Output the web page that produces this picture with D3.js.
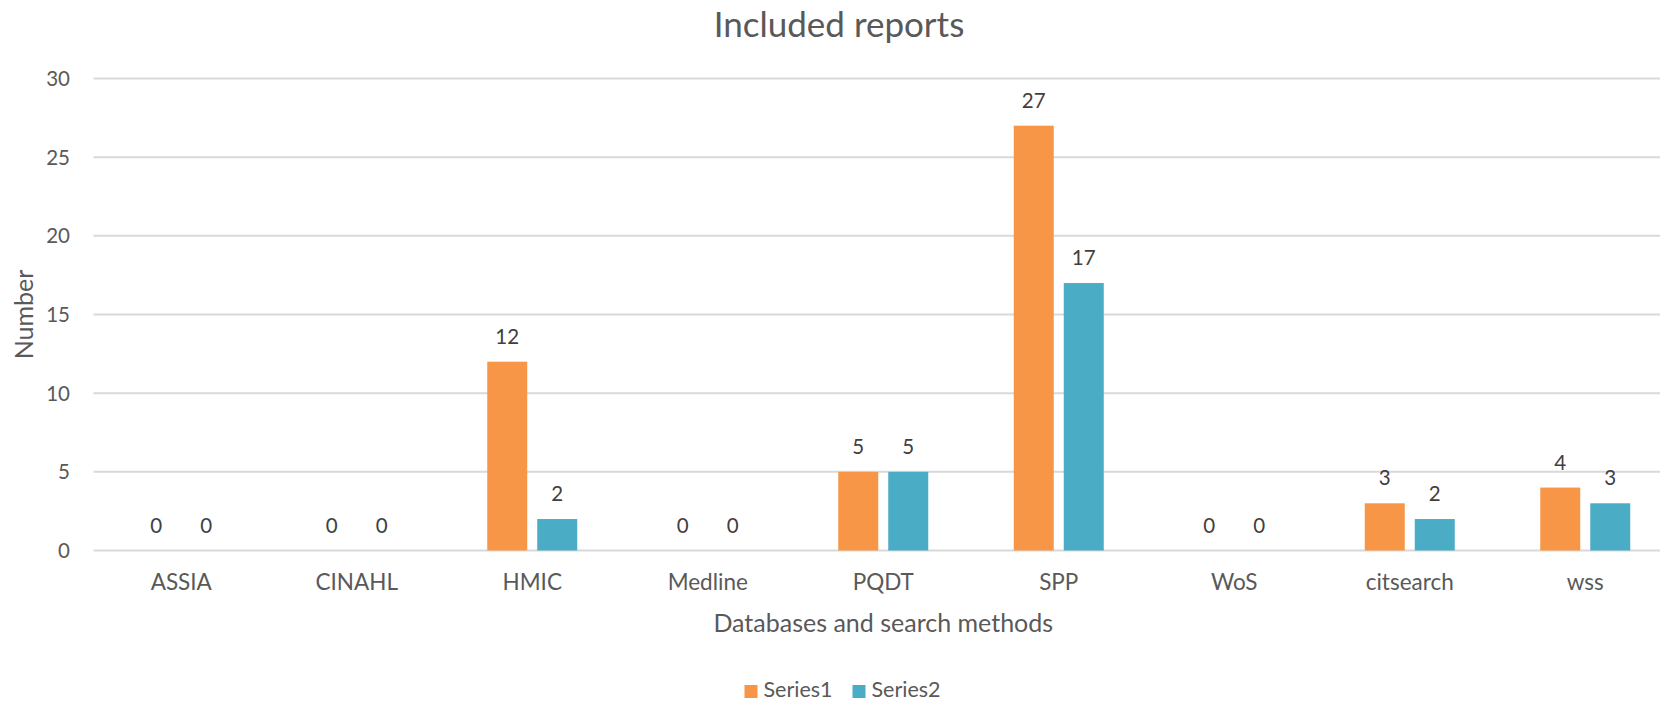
<!DOCTYPE html>
<html lang="en">
  <head>
    <meta charset="UTF-8" />
    <title>Included reports</title>
    <script src="https://cdn.jsdelivr.net/npm/d3@7"></script>
    <style>
      body { margin: 0; background: #fff; }
      svg { display: block; font-family: Lato, "Open Sans", sans-serif; }
    </style>
  </head>
  <body>
    <svg id="chart"></svg>
    <script>
      // data
      const categories = ["ASSIA", "CINAHL", "HMIC", "Medline", "PQDT", "SPP", "WoS", "citsearch", "wss"];
      const seriesNames = ["Series1", "Series2"];
      const series1 = [0, 0, 12, 0, 5, 27, 0, 3, 4];
      const series2 = [0, 0, 2, 0, 5, 17, 0, 2, 3];
      const yTicks = [0, 5, 10, 15, 20, 25, 30];
      const colors = ["#F79646", "#4BACC6"];

      const W = 1660, H = 702;
      const svg = d3.select("#chart").attr("width", W).attr("height", H);

      // plot area runs a bit past the right edge (reference is cropped)
      const plotL = 93.5, plotR = 1673, plotT = 78.5, plotB = 550.5;

      const x0 = d3.scaleBand().domain(categories).range([plotL, plotR]);
      const inner = (x0.bandwidth() - 90) / 2;
      const x1 = d3.scaleBand().domain(seriesNames)
        .range([inner, inner + 90]).paddingInner(0.2);
      const y = d3.scaleLinear().domain([0, 30]).range([plotB, plotT]);

      // gridlines
      svg.append("g")
        .selectAll("line")
        .data(yTicks)
        .join("line")
        .attr("x1", plotL).attr("x2", plotR)
        .attr("y1", d => y(d)).attr("y2", d => y(d))
        .attr("stroke", "#d9d9d9")
        .attr("stroke-width", 2);

      // y tick labels
      svg.append("g")
        .selectAll("text")
        .data(yTicks)
        .join("text")
        .attr("x", 70).attr("y", d => y(d))
        .attr("dy", "0.36em")
        .attr("text-anchor", "end")
        .attr("font-size", 20.5)
        .attr("fill", "#595959")
        .text(d => d);

      // bars
      const table = categories.map((c, i) => ({ cat: c, vals: [series1[i], series2[i]] }));
      const groups = svg.append("g")
        .selectAll("g")
        .data(table)
        .join("g")
        .attr("transform", d => `translate(${x0(d.cat)},0)`);

      groups.selectAll("rect")
        .data(d => d.vals.map((v, k) => ({ name: seriesNames[k], v, k })))
        .join("rect")
        .attr("x", d => x1(d.name))
        .attr("width", x1.bandwidth())
        .attr("y", d => y(d.v))
        .attr("height", d => y(0) - y(d.v))
        .attr("fill", d => colors[d.k]);

      groups.selectAll("text")
        .data(d => d.vals.map((v, k) => ({ name: seriesNames[k], v, k })))
        .join("text")
        .attr("x", d => x1(d.name) + x1.bandwidth() / 2)
        .attr("y", d => y(d.v) - 18)
        .attr("text-anchor", "middle")
        .attr("font-size", 20.5)
        .attr("fill", "#404040")
        .text(d => d.v);

      // category labels
      svg.append("g")
        .selectAll("text")
        .data(categories)
        .join("text")
        .attr("x", d => x0(d) + x0.bandwidth() / 2)
        .attr("y", 590)
        .attr("text-anchor", "middle")
        .attr("font-size", 22.5)
        .attr("fill", "#595959")
        .text(d => d);

      // titles
      svg.append("text")
        .attr("x", 839).attr("y", 37)
        .attr("text-anchor", "middle")
        .attr("font-size", 35)
        .attr("fill", "#595959")
        .text("Included reports");

      svg.append("text")
        .attr("x", (plotL + plotR) / 2).attr("y", 632)
        .attr("text-anchor", "middle")
        .attr("font-size", 25)
        .attr("fill", "#595959")
        .text("Databases and search methods");

      svg.append("text")
        .attr("transform", `translate(33,${(plotT + plotB) / 2}) rotate(-90)`)
        .attr("text-anchor", "middle")
        .attr("font-size", 25)
        .attr("fill", "#595959")
        .text("Number");

      // legend
      const legendX = [744.5, 852.5];
      const legend = svg.append("g")
        .selectAll("g")
        .data(seriesNames)
        .join("g")
        .attr("transform", (d, i) => `translate(${legendX[i]},0)`);
      legend.append("rect")
        .attr("x", 0).attr("y", 685)
        .attr("width", 13).attr("height", 13)
        .attr("fill", (d, i) => colors[i]);
      legend.append("text")
        .attr("x", 19).attr("y", 697)
        .attr("font-size", 21.5)
        .attr("fill", "#595959")
        .text(d => d);
    </script>
  </body>
</html>
